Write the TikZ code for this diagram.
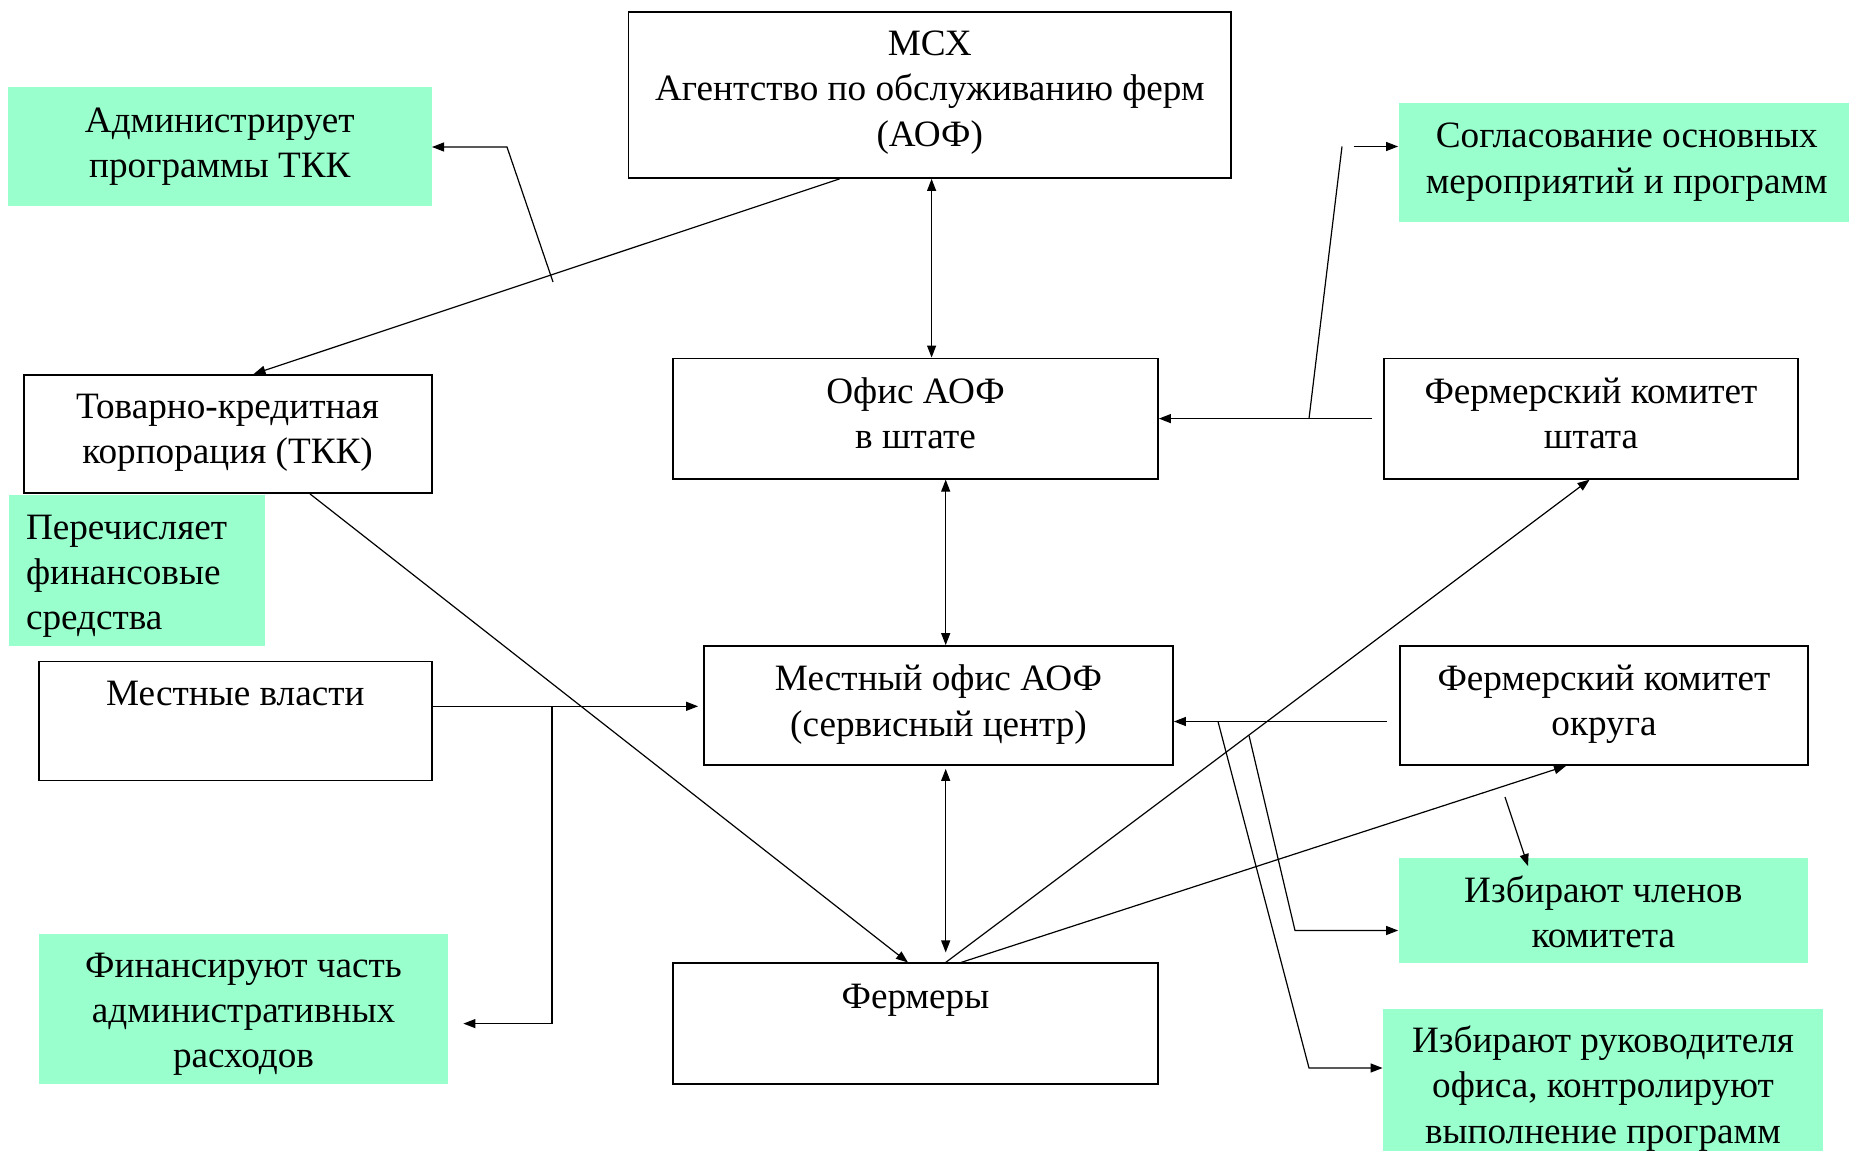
\documentclass[tikz,border=0pt]{standalone}
\usepackage{fontspec}
\setmainfont{Liberation Serif}
\usetikzlibrary{arrows.meta,calc}
\definecolor{mint}{RGB}{153,255,204}
\newcommand\diagfont{\fontsize{18.6pt}{22.6pt}\selectfont}
\begin{document}
\begin{tikzpicture}[x=0.5pt,y=-0.5pt,
  box/.style={draw,line width=0.9pt,inner sep=0pt},
  note/.style={fill=mint,inner sep=0pt},
  txt/.style={inner sep=0pt,align=center,font=\diagfont},
  conn/.style={line width=0.6pt},
  arr/.style={conn,-{Triangle[length=6pt,width=4.5pt]}},
  darr/.style={conn,{Triangle[length=6pt,width=4.5pt]}-{Triangle[length=6pt,width=4.5pt]}}]
\path[use as bounding box] (0,0) rectangle (1849,1151);
% boxes
\node[box,minimum width=301.25pt,minimum height=83pt] (msx) at (929.8,95) {};
\node[note,minimum width=211.8pt,minimum height=59.5pt] (adm) at (219.8,146.5) {};
\node[note,minimum width=228.25pt,minimum height=59.55pt] (sogl) at (1626.75,162.2) {};
\node[box,minimum width=204pt,minimum height=59pt] (tkk) at (227.6,434) {};
\node[box,minimum width=242.5pt,minimum height=60.15pt] (sht) at (915.5,418.6) {};
\node[box,minimum width=207pt,minimum height=60.15pt] (fks) at (1591,418.6) {};
\node[note,minimum width=127.8pt,minimum height=75.5pt] (per) at (137.2,570.5) {};
\node[box,minimum width=196.3pt,minimum height=59.5pt] (mvl) at (235.3,721) {};
\node[box,minimum width=234.5pt,minimum height=59.5pt] (mest) at (938.5,705.5) {};
\node[box,minimum width=204pt,minimum height=59.5pt] (fko) at (1604,705.5) {};
\node[note,minimum width=204.75pt,minimum height=52.25pt] (izc) at (1603.3,910.7) {};
\node[note,minimum width=204.5pt,minimum height=75pt] (fin) at (243.5,1009) {};
\node[box,minimum width=242.5pt,minimum height=60.15pt] (ferm) at (915.5,1023.5) {};
\node[note,minimum width=220pt,minimum height=78pt] (izr) at (1603,1087) {};
% texts
\node[txt] (msxT) at ($(msx)+(0,-2.4)$) {МСХ\\Агентство по обслуживанию ферм\\(АОФ)};
\node[txt] (admT) at ($(adm)+(0,0.5)$) {Администрирует\\программы ТКК};
\node[txt] (soglT) at ($(sogl)+(0,0)$) {Согласование основных\\мероприятий и программ};
\node[txt] (tkkT) at ($(tkk)+(0,-1)$) {Товарно-кредитная\\корпорация (ТКК)};
\node[txt] (shtT) at ($(sht)+(0,-5.5)$) {Офис АОФ\\в штате};
\node[txt] (fksT) at ($(fks)+(0,-5.5)$) {Фермерский комитет\\штата};
\node[txt,align=left,anchor=west] (perT) at ($(per.west)+(16.6,5.5)$) {Перечисляет\\финансовые\\средства};
\node[txt] (mvlT) at ($(mvl)+(0,-4.7)$) {Местные власти\\\mbox{}};
\node[txt] (mestT) at ($(mest)+(0,-1)$) {Местный офис АОФ\\(сервисный центр)};
\node[txt] (fkoT) at ($(fko)+(0,-1)$) {Фермерский комитет\\округа};
\node[txt] (izcT) at ($(izc)+(0,1.5)$) {Избирают членов\\комитета};
\node[txt] (finT) at ($(fin)+(0,5.5)$) {Финансируют часть\\административных\\расходов};
\node[txt] (fermT) at ($(ferm)+(0,-4.7)$) {Фермеры\\\mbox{}};
\node[txt] (izrT) at ($(izr)+(0,1.5)$) {Избирают руководителя\\офиса, контролируют\\выполнение программ};
% free ends
\coordinate (c2) at (553,282);
\coordinate (c5) at (1309,418.6);
\coordinate (c5b) at (1353.6,146.5);
\coordinate (c9) at (552,706.3);
\coordinate (c14) at (1218,721.5);
\coordinate (c15) at (1249,735.5);
\coordinate (c16) at (1505,797);
% connectors
\draw[arr] (msx.south -| 839.6,0) -- (tkk.north -| 253.5,0);
\draw[arr] (c2) -- (507,147) -- (adm.east |- 0,147);
\draw[darr] (msx.south -| 931.6,0) -- (sht.north -| 931.6,0);
\draw[arr] ($(fks.west)+(-11,0)$) -- (sht.east);
\draw[conn] (c5) -- (1342,146.5);
\draw[arr] (c5b) -- (sogl.west |- c5b);
\draw[darr] (sht.south -| 945.7,0) -- (mest.north -| 945.7,0);
\draw[arr] (tkk.south -| 310,0) -- (ferm.north -| 908,0);
\draw[arr] (mvl.east |- 0,706.3) -- ($(mest.west |- 0,706.3)+(-5,0)$);
\draw[arr] (c9) -- (552,1023.6) -- ($(fin.east |- 0,1023.6)+(15,0)$);
\draw[darr] ($(mest.south -| 945.7,0)+(0,3)$) -- ($(ferm.north -| 945.7,0)+(0,-10)$);
\draw[arr] (ferm.north -| 945.7,0) -- (fks.south -| 1589.6,0);
\draw[arr] (ferm.north -| 961,0) -- (fko.south -| 1566,0);
\draw[arr] ($(fko.west |- 0,721.5)+(-12,0)$) -- (mest.east |- 0,721.5);
\draw[arr] (c14) -- (1309,1068) -- (izr.west |- 0,1068);
\draw[arr] (c15) -- (1295,930.5) -- (izc.west |- 0,930.5);
\draw[arr] (c16) -- ($(izc.north -| 1528,0)+(0,8)$);
\end{tikzpicture}
\end{document}
